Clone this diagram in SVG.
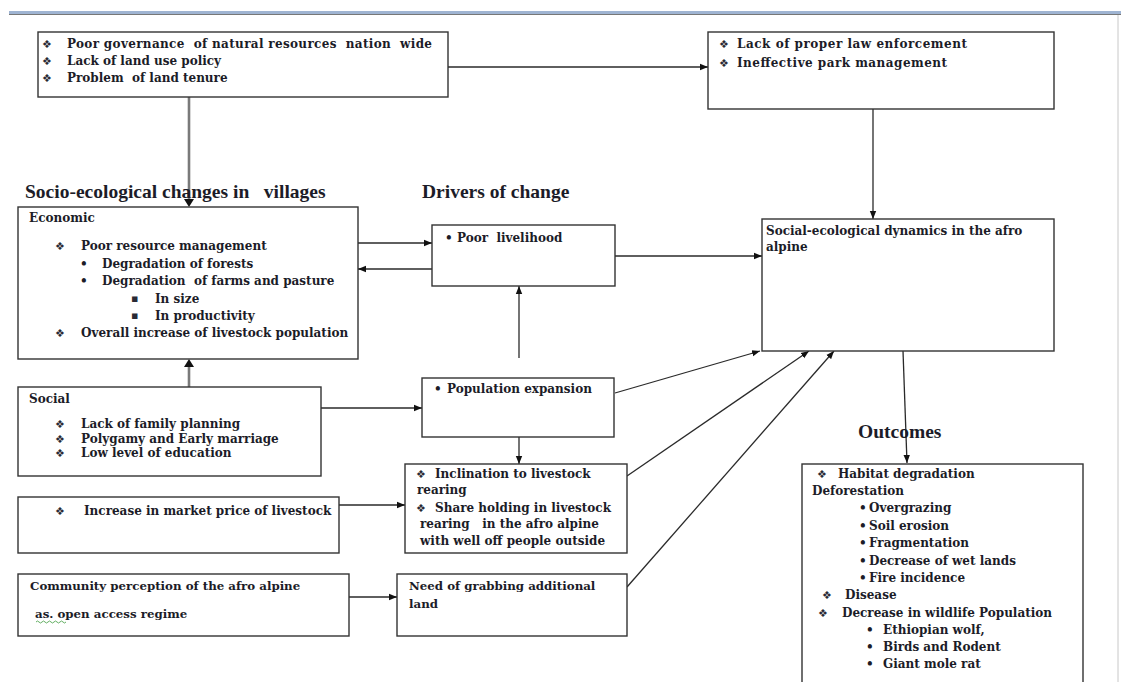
<svg xmlns="http://www.w3.org/2000/svg" width="1121" height="682" viewBox="0 0 1121 682">
<style>
text{white-space:pre}
.box{fill:#fff;stroke:#333;stroke-width:1.4}
.t{font-family:"DejaVu Serif","Liberation Serif",serif;font-weight:bold;font-size:12px;fill:#1c1c28}
.h{font-family:"Liberation Serif","Times New Roman",serif;font-weight:bold;font-size:19.5px;fill:#1c1c28}
.b{font-family:"DejaVu Sans",sans-serif;font-size:11px;fill:#2a2a35}
.c{stroke:#2a2a2a;stroke-width:1.3;fill:none}
.g{stroke:#7a7a7a;stroke-width:2.6;fill:none}
</style>
<defs>
<marker id="ah" viewBox="0 0 10 10" refX="10" refY="5" markerWidth="8" markerHeight="8" markerUnits="userSpaceOnUse" orient="auto">
<path d="M0,1 L10,5 L0,9 Z" fill="#111"/>
</marker>
</defs>
<rect width="1121" height="682" fill="#fff"/>
<rect x="9" y="11" width="1112" height="3" fill="#9fb4d2"/>
<line x1="9" y1="14.5" x2="1121" y2="14.5" stroke="#777" stroke-width="1"/>
<line x1="1118" y1="15" x2="1118" y2="682" stroke="#c8c8c8" stroke-width="1"/>

<g id="connectors">
<line class="g" x1="189" y1="97" x2="189" y2="199"/>
<path d="M184,199 L194,199 L189,207 Z" fill="#111"/>
<line class="g" x1="189" y1="387" x2="189" y2="367"/>
<path d="M184,367 L194,367 L189,359 Z" fill="#111"/>
<line class="c" x1="448" y1="67" x2="708" y2="67" marker-end="url(#ah)"/>
<line class="c" x1="873" y1="109" x2="873" y2="219" marker-end="url(#ah)"/>
<line class="c" x1="358" y1="243" x2="432" y2="243" marker-end="url(#ah)"/>
<line class="c" x1="432" y1="269" x2="358" y2="269" marker-end="url(#ah)"/>
<line class="c" x1="615" y1="256" x2="762" y2="256" marker-end="url(#ah)"/>
<line class="c" x1="519" y1="358" x2="519" y2="286" marker-end="url(#ah)"/>
<line class="c" x1="321" y1="408" x2="422" y2="408" marker-end="url(#ah)"/>
<line class="c" x1="519" y1="430" x2="519" y2="464" marker-end="url(#ah)"/>
<line class="c" x1="339" y1="505" x2="405" y2="505" marker-end="url(#ah)"/>
<line class="c" x1="349" y1="597" x2="397" y2="597" marker-end="url(#ah)"/>
<line class="c" x1="615" y1="393" x2="760" y2="351" marker-end="url(#ah)"/>
<line class="c" x1="627" y1="476" x2="809" y2="351" marker-end="url(#ah)"/>
<line class="c" x1="627" y1="587" x2="834" y2="351" marker-end="url(#ah)"/>
<line class="c" x1="903" y1="351" x2="907" y2="463" marker-end="url(#ah)"/>
</g>

<g id="governance">
<rect class="box" x="38" y="32" width="410" height="65"/>
<text class="b" x="42" y="48">❖</text><text class="t" x="67" y="48" textLength="365" lengthAdjust="spacing">Poor governance  of natural resources  nation  wide</text>
<text class="b" x="42" y="65">❖</text><text class="t" x="67" y="65">Lack of land use policy</text>
<text class="b" x="42" y="82">❖</text><text class="t" x="67" y="82">Problem  of land tenure</text>
</g>

<g id="law">
<rect class="box" x="708" y="32" width="346" height="77"/>
<text class="b" x="719" y="48">❖</text><text class="t" x="737" y="48" textLength="230" lengthAdjust="spacing">Lack of proper law enforcement</text>
<text class="b" x="719" y="67">❖</text><text class="t" x="737" y="67" textLength="210" lengthAdjust="spacing">Ineffective park management</text>
</g>

<g id="headings">
<text class="h" x="25" y="198">Socio-ecological changes in   villages</text>
<text class="h" x="422" y="198">Drivers of change</text>
<text class="h" x="858" y="438">Outcomes</text>
</g>

<g id="economic">
<rect class="box" x="18" y="207" width="340" height="152"/>
<text class="t" x="29" y="222">Economic</text>
<text class="b" x="55" y="250">❖</text><text class="t" x="81" y="250">Poor resource management</text>
<text class="t" x="80" y="268">•</text><text class="t" x="102" y="268">Degradation of forests</text>
<text class="t" x="80" y="285">•</text><text class="t" x="102" y="285">Degradation  of farms and pasture</text>
<text class="b" x="131" y="302">▪</text><text class="t" x="155" y="303">In size</text>
<text class="b" x="131" y="319">▪</text><text class="t" x="155" y="320">In productivity</text>
<text class="b" x="55" y="337">❖</text><text class="t" x="81" y="337">Overall increase of livestock population</text>
</g>

<g id="livelihood">
<rect class="box" x="432" y="225" width="183" height="61"/>
<text class="t" x="445" y="242">•</text><text class="t" x="457" y="242">Poor  livelihood</text>
</g>

<g id="dynamics">
<rect class="box" x="762" y="219" width="292" height="132"/>
<text class="t" x="766" y="235">Social-ecological dynamics in the afro</text>
<text class="t" x="766" y="251">alpine</text>
</g>

<g id="social">
<rect class="box" x="18" y="387" width="303" height="89"/>
<text class="t" x="29" y="403">Social</text>
<text class="b" x="55" y="428">❖</text><text class="t" x="81" y="428">Lack of family planning</text>
<text class="b" x="55" y="443">❖</text><text class="t" x="81" y="443">Polygamy and Early marriage</text>
<text class="b" x="55" y="457">❖</text><text class="t" x="81" y="457">Low level of education</text>
</g>

<g id="population">
<rect class="box" x="422" y="378" width="192" height="59"/>
<text class="t" x="434" y="393">•</text><text class="t" x="447" y="393">Population expansion</text>
</g>

<g id="market">
<rect class="box" x="18" y="497" width="321" height="56"/>
<text class="b" x="55" y="515">❖</text><text class="t" x="84" y="515">Increase in market price of livestock</text>
</g>

<g id="inclination">
<rect class="box" x="405" y="464" width="222" height="89"/>
<text class="b" x="416" y="478">❖</text><text class="t" x="435" y="478">Inclination to livestock</text>
<text class="t" x="417" y="494">rearing</text>
<text class="b" x="416" y="512">❖</text><text class="t" x="435" y="512">Share holding in livestock</text>
<text class="t" x="420" y="528">rearing   in the afro alpine</text>
<text class="t" x="420" y="545">with well off people outside</text>
</g>

<g id="community">
<rect class="box" x="18" y="574" width="331" height="62"/>
<text class="t" x="30" y="590" style="font-size:11.8px">Community perception of the afro alpine</text>
<text class="t" x="35" y="618" style="font-size:11.8px">as. open access regime</text>
<path d="M36,622 q1.5,-2 3,0 t3,0 t3,0 t3,0 t3,0 t3,0 t3,0 t3,0 t3,0 t3,0" stroke="#3c9a3c" stroke-width="0.8" fill="none"/>
</g>

<g id="grabbing">
<rect class="box" x="397" y="574" width="230" height="62"/>
<text class="t" x="409" y="590" style="font-size:11.8px">Need of grabbing additional</text>
<text class="t" x="409" y="608" style="font-size:11.8px">land</text>
</g>

<g id="outcomes">
<rect class="box" x="802" y="464" width="281" height="230"/>
<text class="b" x="817" y="478">❖</text><text class="t" x="838" y="478">Habitat degradation</text>
<text class="t" x="812" y="495">Deforestation</text>
<text class="t" x="859" y="512">•</text><text class="t" x="869" y="512">Overgrazing</text>
<text class="t" x="859" y="530">•</text><text class="t" x="869" y="530">Soil erosion</text>
<text class="t" x="859" y="547">•</text><text class="t" x="869" y="547">Fragmentation</text>
<text class="t" x="859" y="565">•</text><text class="t" x="869" y="565">Decrease of wet lands</text>
<text class="t" x="859" y="582">•</text><text class="t" x="869" y="582">Fire incidence</text>
<text class="b" x="822" y="599">❖</text><text class="t" x="845" y="599">Disease</text>
<text class="b" x="818" y="617">❖</text><text class="t" x="842" y="617">Decrease in wildlife Population</text>
<text class="t" x="866" y="634">•</text><text class="t" x="883" y="634">Ethiopian wolf,</text>
<text class="t" x="866" y="651">•</text><text class="t" x="883" y="651">Birds and Rodent</text>
<text class="t" x="866" y="668">•</text><text class="t" x="883" y="668">Giant mole rat</text>
</g>
</svg>
